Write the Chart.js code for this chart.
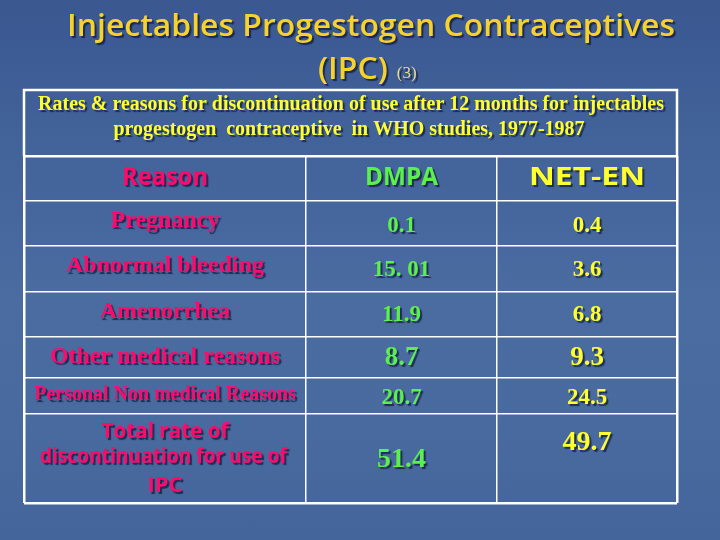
<!DOCTYPE html>
<html><head><meta charset="utf-8">
<script src="https://cdn.jsdelivr.net/npm/chart.js@4.4.1/dist/chart.umd.min.js"></script>
<style>
html,body{margin:0;padding:0;background:#44659b;}
#wrap{width:720px;height:540px;position:relative;overflow:hidden;
 background:linear-gradient(180deg,#3a5790 0%,#42629a 25%,#4a6ca1 55%,#486a9f 80%,#44659b 100%);}
canvas{position:absolute;left:0;top:0;}
</style></head><body>
<div id="wrap"><canvas id="c" width="720" height="540"></canvas></div>
<script>
// ---- data ----
const titleLine1 = 'Injectables Progestogen Contraceptives';
const titleLine2 = '(IPC)';
const titleRef = '(3)';
const subtitleLines = ['Rates & reasons for discontinuation of use after 12 months for injectables',
                       'progestogen  contraceptive  in WHO studies, 1977-1987'];
const columnHeaders = ['Reason', 'DMPA', 'NET-EN'];
const reasons = [['Pregnancy'], ['Abnormal bleeding'], ['Amenorrhea'], ['Other medical reasons'],
                 ['Personal Non medical Reasons'], ['Total rate of', 'discontinuation for use of', 'IPC']];
const dmpaValues = [0.1, 15.01, 11.9, 8.7, 20.7, 51.4];
const netEnValues = [0.4, 3.6, 6.8, 9.3, 24.5, 49.7];
const dmpaLabels = ['0.1', '15. 01', '11.9', '8.7', '20.7', '51.4'];
const netEnLabels = ['0.4', '3.6', '6.8', '9.3', '24.5', '49.7'];

// ---- layout / style ----
const colWidths = [282, 191, 180];
const rowHeights = [45, 45, 46, 45, 41, 36, 89];
const subtitleTop = 90;
const cum = a => a.reduce((acc, v) => { acc.push(acc[acc.length - 1] + v); return acc; }, [0]);
const xB = cum(colWidths), yB = cum(rowHeights);
const mid = (b, i) => (b[i] + b[i + 1]) / 2;

const valueFont = [23, 23, 23, 27, 23, 28];
const dmpaDy = [2.5, 1, 0.5, 0.5, 2, 1.5];
const netDy = [2.5, 1, 0.5, 0.5, 2, -15.5];
const reasonFont = [24, 24, 24, 24, 20];
const reasonDy = [-2.5, -3, -2.5, -0.5, -1];
const totalLineDy = [-26.5, -1.5, 27.5];
const headerWidths = [86, 73, 116];
const totalLineWidths = [127, 247, 35];

const PINK = '#ff0a6a', GREEN = '#5cf04c', YELLOW = '#ffff2e', GOLD = '#f7d22a';
const SANS = "'Open Sans', 'DejaVu Sans', sans-serif";
const SERIF = "'Liberation Serif', 'DejaVu Serif', serif";

function fitSize(ctx, text, weight, family, target) {
  ctx.font = weight + ' 100px ' + family;
  return 100 * target / ctx.measureText(text).width;
}
// draw text at a given pixel size, stretched horizontally to a target width (centered at cx)
function drawStretched(ctx, text, cx, cy, font, target) {
  ctx.font = font;
  const w = ctx.measureText(text).width;
  const k = target / w;
  ctx.save();
  ctx.translate(cx, cy);
  ctx.scale(k, 1);
  ctx.textAlign = 'center';
  ctx.fillText(text, 0, 0);
  ctx.restore();
  return k;
}
function shadowOn(ctx) {
  ctx.shadowColor = 'rgba(15,25,60,0.75)';
  ctx.shadowOffsetX = 2; ctx.shadowOffsetY = 2; ctx.shadowBlur = 1;
}

const tablePlugin = {
  id: 'tableText',
  afterDraw(chart) {
    const { ctx, chartArea: a, scales: { x, y } } = chart;
    ctx.save();
    // subtitle box
    ctx.strokeStyle = '#ffffff'; ctx.lineWidth = 2.5;
    ctx.beginPath();
    ctx.moveTo(a.left, a.top); ctx.lineTo(a.left, subtitleTop);
    ctx.lineTo(a.right, subtitleTop); ctx.lineTo(a.right, a.top);
    ctx.stroke();

    shadowOn(ctx);
    ctx.textBaseline = 'alphabetic';
    // title
    ctx.fillStyle = GOLD;
    const tFont = '600 31px ' + SANS;
    const k = drawStretched(ctx, titleLine1, 371, 36, tFont, 608);
    ctx.font = tFont;
    const w2 = ctx.measureText(titleLine2).width * k;
    drawStretched(ctx, titleLine2, 318 + w2 / 2, 79, tFont, w2);
    ctx.font = '17px ' + SERIF; ctx.fillStyle = '#e9dc8c';
    ctx.textAlign = 'left';
    ctx.fillText(titleRef, 318 + w2 + 9, 78);

    // subtitle
    const ss = fitSize(ctx, subtitleLines[0], 'bold', SERIF, 626);
    ctx.font = 'bold ' + ss + 'px ' + SERIF; ctx.fillStyle = YELLOW;
    ctx.textAlign = 'center'; ctx.textBaseline = 'middle';
    ctx.fillText(subtitleLines[0], 351, 105);
    ctx.fillText(subtitleLines[1], 349, 130);

    // header row
    const hy = y.getPixelForValue(mid(yB, 0)) - 1;
    const hColors = [PINK, GREEN, YELLOW];
    columnHeaders.forEach((h, i) => {
      ctx.fillStyle = hColors[i];
      drawStretched(ctx, h, x.getPixelForValue(mid(xB, i)), hy, 'bold 25px ' + SANS, headerWidths[i]);
    });

    // reason column
    const cx = x.getPixelForValue(mid(xB, 0));
    reasons.forEach((lines, i) => {
      const cy = y.getPixelForValue(mid(yB, i + 1));
      ctx.fillStyle = PINK;
      ctx.textAlign = 'center';
      if (lines.length === 1) {
        ctx.font = 'bold ' + reasonFont[i] + 'px ' + SERIF;
        ctx.fillText(lines[0], cx, cy + reasonDy[i]);
      } else {
        lines.forEach((l, k2) => drawStretched(ctx, l, cx + (k2 === 1 ? -1.5 : 0), cy + totalLineDy[k2],
          'bold 21px ' + SANS, totalLineWidths[k2]));
      }
    });

    // values via dataset elements
    const labelSets = [dmpaLabels, netEnLabels];
    const colors = [GREEN, YELLOW];
    const dys = [dmpaDy, netDy];
    ctx.textAlign = 'center';
    chart.data.datasets.forEach((ds, di) => {
      const meta = chart.getDatasetMeta(di);
      meta.data.forEach((el, j) => {
        ctx.font = 'bold ' + valueFont[j] + 'px ' + SERIF;
        ctx.fillStyle = colors[di];
        ctx.fillText(labelSets[di][j], el.x, el.y + dys[di][j]);
      });
    });
    ctx.restore();
  }
};

const gridW = c => (c.index === 0 || c.index === (c.scale.ticks.length - 1)) ? 2.5 : 1.5;

new Chart(document.getElementById('c'), {
  type: 'scatter',
  data: {
    datasets: [
      { label: 'DMPA', data: dmpaValues.map((v, i) => ({ x: mid(xB, 1), y: mid(yB, i + 1), v })), pointRadius: 0 },
      { label: 'NET-EN', data: netEnValues.map((v, i) => ({ x: mid(xB, 2), y: mid(yB, i + 1), v })), pointRadius: 0 }
    ]
  },
  options: {
    responsive: false,
    animation: false,
    events: [],
    layout: { padding: { left: 24, top: 156, right: 720 - 677, bottom: 540 - 503 } },
    plugins: { legend: { display: false }, tooltip: { enabled: false }, title: { display: false } },
    scales: {
      x: {
        type: 'linear', position: 'top', min: 0, max: xB[xB.length - 1],
        afterBuildTicks: s => { s.ticks = xB.map(v => ({ value: v })); },
        afterFit: s => { s.height = 0; },
        ticks: { display: false },
        grid: { color: '#ffffff', lineWidth: gridW, drawTicks: false },
        border: { display: false }
      },
      y: {
        type: 'linear', reverse: true, min: 0, max: yB[yB.length - 1],
        afterBuildTicks: s => { s.ticks = yB.map(v => ({ value: v })); },
        afterFit: s => { s.width = 0; },
        ticks: { display: false },
        grid: { color: '#ffffff', lineWidth: gridW, drawTicks: false },
        border: { display: false }
      }
    }
  },
  plugins: [tablePlugin]
});
</script>
</body></html>
